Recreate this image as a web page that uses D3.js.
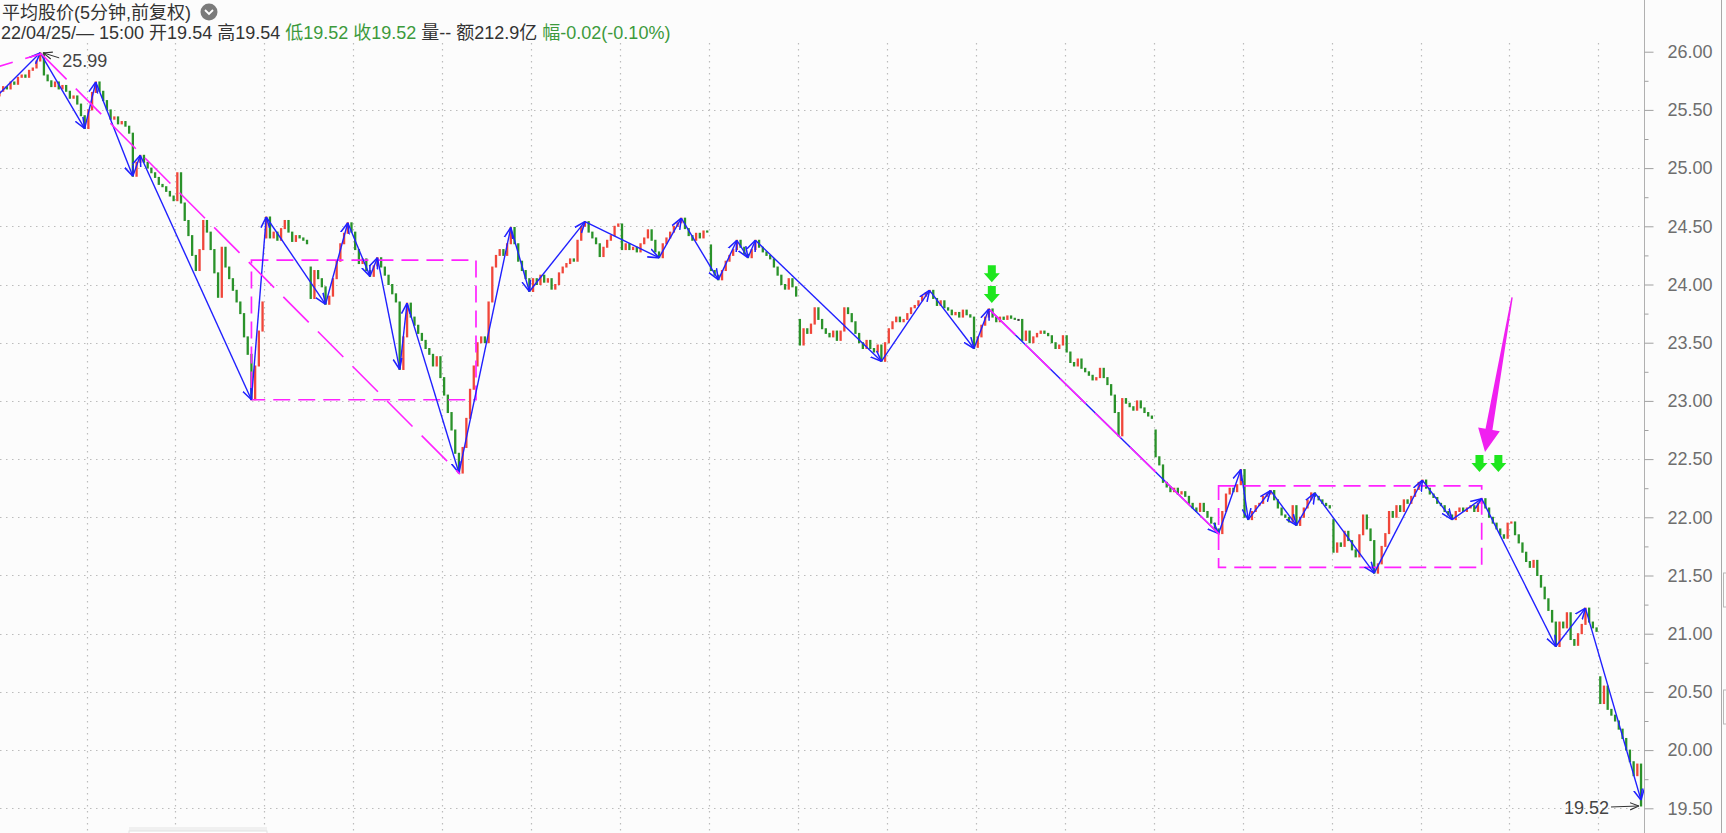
<!DOCTYPE html>
<html><head><meta charset="utf-8">
<script src="https://cdn.jsdelivr.net/npm/d3@7"></script>
<style>
html,body{margin:0;padding:0;background:#fcfcfc;overflow:hidden}
svg{display:block}
text{font-family:"Liberation Sans",Arial,"Noto Sans CJK SC",sans-serif;white-space:pre}
</style></head><body>
<svg id="c" width="1726" height="833"></svg>
<script>
// ---- price data: one array per half-day session: [open, close1 ... close12] ----
const seg00 = [25.62, 25.66, 25.70, 25.68, 25.74, 25.72, 25.78, 25.80, 25.78, 25.84, 25.86, 25.92, 25.99];
const seg01 = [25.99, 25.80, 25.75, 25.70, 25.74, 25.68, 25.71, 25.66, 25.60, 25.62, 25.55, 25.45, 25.34];
const seg02 = [25.34, 25.50, 25.65, 25.74, 25.66, 25.58, 25.50, 25.42, 25.44, 25.38, 25.40, 25.36, 25.30];
const seg03 = [25.30, 24.93, 25.05, 25.11, 25.05, 25.00, 24.96, 24.92, 24.86, 24.84, 24.80, 24.76, 24.72];
const seg04 = [24.72, 24.96, 24.70, 24.55, 24.42, 24.25, 24.12, 24.30, 24.55, 24.45, 24.30, 24.10, 23.89];
const seg05 = [23.89, 24.32, 24.15, 24.05, 23.95, 23.85, 23.75, 23.55, 23.40, 23.01, 23.30, 23.60, 23.85];
const seg06 = [24.40, 24.58, 24.40, 24.45, 24.38, 24.48, 24.55, 24.45, 24.37, 24.42, 24.40, 24.38, 24.35];
const seg07 = [24.15, 23.88, 24.12, 24.05, 23.98, 23.83, 23.90, 24.05, 24.20, 24.35, 24.44, 24.53, 24.45];
const seg08 = [24.45, 24.30, 24.18, 24.22, 24.12, 24.07, 24.16, 24.23, 24.15, 24.08, 24.00, 23.92, 23.85];
const seg09 = [23.85, 23.27, 23.55, 23.84, 23.72, 23.65, 23.58, 23.52, 23.45, 23.40, 23.30, 23.38, 23.20];
const seg10 = [23.20, 23.05, 22.90, 22.75, 22.55, 22.38, 22.60, 22.85, 23.10, 23.30, 23.50, 23.55, 23.50];
const seg11 = [23.50, 23.85, 24.15, 24.25, 24.30, 24.25, 24.35, 24.49, 24.35, 24.20, 24.12, 24.05, 23.94];
const seg12 = [23.94, 24.05, 24.00, 24.08, 24.02, 24.05, 23.96, 24.00, 24.10, 24.15, 24.18, 24.22, 24.20];
const seg13 = [24.20, 24.38, 24.50, 24.54, 24.45, 24.40, 24.35, 24.24, 24.32, 24.38, 24.42, 24.50, 24.52];
const seg14 = [24.52, 24.30, 24.35, 24.30, 24.32, 24.28, 24.35, 24.40, 24.47, 24.38, 24.28, 24.23, 24.35];
const seg15 = [24.35, 24.40, 24.45, 24.50, 24.53, 24.57, 24.48, 24.42, 24.38, 24.44, 24.40, 24.46, 24.45];
const seg16 = [24.34, 24.12, 24.08, 24.04, 24.12, 24.20, 24.25, 24.30, 24.38, 24.32, 24.26, 24.23, 24.30];
const seg17 = [24.30, 24.38, 24.32, 24.28, 24.25, 24.22, 24.15, 24.08, 24.00, 23.96, 24.05, 23.98, 23.90];
const seg18 = [23.70, 23.48, 23.62, 23.58, 23.66, 23.80, 23.70, 23.62, 23.58, 23.55, 23.60, 23.52, 23.60];
const seg19 = [23.60, 23.80, 23.75, 23.68, 23.58, 23.50, 23.45, 23.52, 23.45, 23.42, 23.48, 23.34, 23.50];
const seg20 = [23.50, 23.62, 23.68, 23.72, 23.68, 23.70, 23.75, 23.80, 23.82, 23.86, 23.90, 23.93, 23.95];
const seg21 = [23.95, 23.88, 23.82, 23.86, 23.80, 23.78, 23.74, 23.76, 23.72, 23.78, 23.74, 23.72, 23.45];
const seg22 = [23.46, 23.55, 23.65, 23.72, 23.79, 23.72, 23.68, 23.72, 23.70, 23.73, 23.71, 23.70, 23.70];
const seg23 = [23.70, 23.52, 23.60, 23.50, 23.55, 23.58, 23.60, 23.58, 23.56, 23.50, 23.45, 23.48, 23.56];
const seg24 = [23.56, 23.42, 23.33, 23.30, 23.36, 23.28, 23.25, 23.22, 23.18, 23.20, 23.28, 23.20, 23.14];
const seg25 = [23.14, 23.05, 22.90, 22.70, 23.02, 22.98, 22.95, 22.92, 23.00, 22.94, 22.90, 22.87, 22.85];
const seg26 = [22.75, 22.52, 22.45, 22.30, 22.26, 22.22, 22.25, 22.20, 22.22, 22.18, 22.12, 22.08, 22.05];
const seg27 = [22.05, 22.12, 22.05, 22.00, 21.95, 21.90, 21.86, 22.05, 22.20, 22.25, 22.22, 22.28, 22.41];
const seg28 = [22.41, 22.00, 21.98, 22.05, 22.10, 22.12, 22.18, 22.20, 22.23, 22.15, 22.08, 22.02, 22.00];
const seg29 = [22.00, 21.96, 22.10, 21.93, 22.00, 22.08, 22.15, 22.21, 22.18, 22.15, 22.12, 22.10, 22.08];
const seg30 = [21.98, 21.70, 21.78, 21.75, 21.88, 21.80, 21.72, 21.66, 21.85, 22.02, 21.90, 21.80, 21.52];
const seg31 = [21.52, 21.60, 21.75, 21.86, 22.05, 22.00, 22.10, 22.05, 22.15, 22.12, 22.18, 22.24, 22.30];
const seg32 = [22.30, 22.32, 22.25, 22.20, 22.17, 22.12, 22.10, 22.05, 22.02, 21.98, 22.05, 22.08, 22.05];
const seg33 = [22.05, 22.08, 22.10, 22.05, 22.12, 22.16, 22.08, 22.00, 21.95, 21.90, 21.85, 21.82, 21.95];
const seg34 = [21.95, 21.96, 21.85, 21.78, 21.70, 21.62, 21.57, 21.63, 21.50, 21.40, 21.30, 21.20, 21.10];
const seg35 = [21.10, 20.89, 21.10, 21.05, 21.18, 20.95, 20.90, 21.00, 21.08, 21.22, 21.10, 21.05, 21.02];
const seg36 = [20.63, 20.40, 20.55, 20.35, 20.30, 20.25, 20.18, 20.10, 20.00, 19.90, 19.78, 19.88, 19.52];

// ---- strokes (bi) : bar index and price of each turning point ----
const biIndex = [-6, 11, 23, 26, 36, 38, 68, 72, 88, 94, 100, 102, 108, 110, 124, 138, 143, 158, 178, 184, 194, 199, 202, 204, 238, 251, 263, 267, 329, 335, 337, 343, 350, 355, 371, 384, 392, 400, 420, 428, 443];
const biPrice = [25.45, 25.99, 25.34, 25.74, 24.93, 25.11, 23.01, 24.58, 23.83, 24.53, 24.07, 24.23, 23.27, 23.84, 22.38, 24.49, 23.94, 24.54, 24.23, 24.57, 24.04, 24.38, 24.23, 24.38, 23.34, 23.95, 23.45, 23.79, 21.86, 22.41, 21.98, 22.23, 21.93, 22.21, 21.52, 22.32, 21.98, 22.16, 20.89, 21.22, 19.57];
const biTailIndex = [443, 443.9];
const biTailPrice = [19.57, 19.67];

// ---- segments (magenta dashed) ----
const segFromIndex = [-6, 11, 267];
const segFromPrice = [25.83, 25.99, 23.79];
const segToIndex = [11, 124, 329];
const segToPrice = [25.99, 22.38, 21.86];

// ---- pivot boxes ----
const boxLeft = [68, 329];
const boxRight = [128.6, 400];
const boxTop = [24.21, 22.27];
const boxBottom = [23.01, 21.57];

// ---- signals ----
const sigIndex = [267.8, 267.8, 399.4, 404.5];
const sigPrice = [24.02, 23.84, 22.39, 22.39];
const bigArrowIndex = [408.2, 400.9];
const bigArrowPrice = [23.89, 22.56];

// ---- axis ticks ----
const majorTicks = [19.5, 20, 20.5, 21, 21.5, 22, 22.5, 23, 23.5, 24, 24.5, 25, 25.5, 26];
const minorTicks = [19.75, 20.25, 20.75, 21.25, 21.75, 22.25, 22.75, 23.25, 23.75, 24.25, 24.75, 25.25, 25.75];
const gridPrices = [19.5, 20, 20.5, 21, 21.5, 22, 22.5, 23, 23.5, 24, 24.5, 25, 25.5];

// ---- labels ----
const highLabel = {index: 11, price: 25.99, text: "25.99"};
const lowLabel = {index: 443, price: 19.52, text: "19.52"};
const titleText = "平均股价(5分钟,前复权)";
const infoParts = [["22/04/25/— 15:00 开19.54 高19.54 ", "#333"], ["低19.52 收19.52 ", "#3c9a3c"], ["量-- 额212.9亿 ", "#333"], ["幅-0.02(-0.10%)", "#3c9a3c"]];

// ================= drawing =================
const sessions = [seg00, seg01, seg02, seg03, seg04, seg05, seg06, seg07, seg08, seg09, seg10, seg11, seg12, seg13, seg14, seg15, seg16, seg17, seg18, seg19, seg20, seg21, seg22, seg23, seg24, seg25, seg26, seg27, seg28, seg29, seg30, seg31, seg32, seg33, seg34, seg35, seg36];
const PER = 12;
const nBars = sessions.length * PER;
const svg = d3.select("#c");
const x = d3.scaleLinear().domain([0, nBars]).range([-2.4, -2.4 + nBars * 3.7056]);
const xc = i => x(i + 0.5);
const y = d3.scaleLinear().domain([19.5, 26]).range([808.3, 51.7]);

svg.append("rect").attr("width", 1726).attr("height", 833).attr("fill", "#fcfcfc");

const defs = svg.append("defs");
defs.append("marker").attr("id", "ab").attr("viewBox", "0 0 10 10").attr("refX", 10).attr("refY", 5)
  .attr("markerWidth", 11).attr("markerHeight", 11).attr("markerUnits", "userSpaceOnUse").attr("orient", "auto")
  .append("path").attr("d", "M0,1 L10,5 L0,9").attr("fill", "none").attr("stroke", "#2020ff").attr("stroke-width", 1.4);
defs.append("marker").attr("id", "ak").attr("viewBox", "0 0 10 10").attr("refX", 10).attr("refY", 5)
  .attr("markerWidth", 9).attr("markerHeight", 9).attr("markerUnits", "userSpaceOnUse").attr("orient", "auto")
  .append("path").attr("d", "M0,1 L10,5 L0,9").attr("fill", "none").attr("stroke", "#333").attr("stroke-width", 1.2);

// grid
const grid = svg.append("g").attr("stroke", "#bcbcbc").attr("stroke-width", 1.2).attr("stroke-dasharray", "1.5,4.5");
const dayLines = d3.range(1, Math.ceil(sessions.length / 2)).map(d => d * 2 * PER);
grid.selectAll("line.v").data(dayLines).join("line").attr("class", "v")
  .attr("x1", d => Math.round(x(d)) + 0.5).attr("x2", d => Math.round(x(d)) + 0.5).attr("y1", 43).attr("y2", 833);
grid.selectAll("line.h").data(gridPrices).join("line").attr("class", "h")
  .attr("x1", 0).attr("x2", 1640).attr("y1", d => Math.round(y(d)) + 0.5).attr("y2", d => Math.round(y(d)) + 0.5);

// candles
const candles = [];
sessions.forEach((s, si) => { for (let j = 0; j < PER; j++) candles.push({i: si * PER + j, o: s[j], c: s[j + 1]}); });
svg.append("g").selectAll("rect").data(candles).join("rect")
  .attr("x", d => xc(d.i) - 1.15).attr("width", 2.3)
  .attr("y", d => y(Math.max(d.o, d.c)) - 0.5)
  .attr("height", d => Math.max(2, Math.abs(y(d.o) - y(d.c)) + 1))
  .attr("fill", d => d.c > d.o ? "#f0463a" : d.c < d.o ? "#2a922a" : "#3a3a3a");

// pivot boxes
const boxes = boxLeft.map((l, k) => ({l, r: boxRight[k], t: boxTop[k], b: boxBottom[k]}));
svg.append("g").selectAll("rect").data(boxes).join("rect")
  .attr("x", d => xc(d.l)).attr("y", d => y(d.t)).attr("width", d => xc(d.r) - xc(d.l)).attr("height", d => y(d.b) - y(d.t))
  .attr("fill", "none").attr("stroke", "#ff22ff").attr("stroke-width", 1.7).attr("stroke-dasharray", "17,8");

// bi strokes
const bis = [];
for (let k = 1; k < biIndex.length; k++) bis.push({x1: xc(biIndex[k - 1]), y1: y(biPrice[k - 1]), x2: xc(biIndex[k]), y2: y(biPrice[k])});
svg.append("g").selectAll("line").data(bis).join("line")
  .attr("x1", d => d.x1).attr("y1", d => d.y1).attr("x2", d => d.x2).attr("y2", d => d.y2)
  .attr("stroke", "#2020ff").attr("stroke-width", 1.4).attr("marker-end", "url(#ab)");
svg.append("line").attr("x1", xc(biTailIndex[0])).attr("y1", y(biTailPrice[0])).attr("x2", xc(biTailIndex[1])).attr("y2", y(biTailPrice[1]))
  .attr("stroke", "#2020ff").attr("stroke-width", 1.4);

// segments (drawn over the strokes, slightly offset like the original)
const segs = segFromIndex.map((f, k) => ({x1: xc(f), y1: y(segFromPrice[k]), x2: xc(segToIndex[k]), y2: y(segToPrice[k])}));
svg.append("g").selectAll("line").data(segs).join("line")
  .attr("x1", d => d.x1 + 1).attr("y1", d => d.y1 + 1).attr("x2", d => d.x2 + 1).attr("y2", d => d.y2 + 1)
  .attr("stroke", "#ff22ff").attr("stroke-width", 1.6).attr("stroke-dasharray", "36,13");

// green signal arrows
const sigs = sigIndex.map((s, k) => ({tx: xc(s), ty: y(sigPrice[k])}));
svg.append("g").selectAll("path").data(sigs).join("path")
  .attr("d", d => {
    const {tx, ty} = d;
    return `M${tx - 4},${ty - 17} L${tx + 4},${ty - 17} L${tx + 4},${ty - 9} L${tx + 8},${ty - 9} L${tx},${ty} L${tx - 8},${ty - 9} L${tx - 4},${ty - 9} Z`;
  }).attr("fill", "#1ee61e");

// big magenta arrow
{
  const T = [xc(bigArrowIndex[0]), y(bigArrowPrice[0])];
  const P = [xc(bigArrowIndex[1]), y(bigArrowPrice[1])];
  const L = Math.hypot(P[0] - T[0], P[1] - T[1]);
  const u = [(P[0] - T[0]) / L, (P[1] - T[1]) / L];
  const n = [-u[1], u[0]];
  const B = [P[0] - u[0] * 23, P[1] - u[1] * 23];
  const pt = (p, s) => [p[0] + n[0] * s, p[1] + n[1] * s];
  const pts = [pt(T, -0.7), pt(T, 0.7), pt(B, 3.5), pt(B, 11), P, pt(B, -11), pt(B, -3.5)];
  svg.append("path").attr("d", "M" + pts.map(p => p.join(",")).join("L") + "Z").attr("fill", "#f020f0");
}

// extreme labels
{
  const hx = xc(highLabel.index), hy = y(highLabel.price);
  svg.append("line").attr("x1", hx + 19).attr("y1", hy + 5).attr("x2", hx + 3).attr("y2", hy)
    .attr("stroke", "#333").attr("stroke-width", 1).attr("marker-end", "url(#ak)");
  svg.append("text").attr("x", hx + 22).attr("y", hy + 14).attr("font-size", 18).attr("fill", "#444").text(highLabel.text);
  const lx = xc(lowLabel.index), ly = y(lowLabel.price);
  svg.append("line").attr("x1", lx - 30).attr("y1", ly + 1).attr("x2", lx - 2).attr("y2", ly)
    .attr("stroke", "#333").attr("stroke-width", 1).attr("marker-end", "url(#ak)");
  svg.append("text").attr("x", lx - 32).attr("y", ly + 8).attr("font-size", 18).attr("fill", "#444").attr("text-anchor", "end").text(lowLabel.text);
}

// right axis
svg.append("line").attr("x1", 1644.5).attr("x2", 1644.5).attr("y1", 0).attr("y2", 833).attr("stroke", "#b0b0b0");
svg.append("line").attr("x1", 1721.5).attr("x2", 1721.5).attr("y1", 0).attr("y2", 833).attr("stroke", "#a8a8a8");
const ax = svg.append("g").attr("transform", "translate(1644.5,0)")
  .call(d3.axisRight(y).tickValues(majorTicks).tickSize(9).tickPadding(14).tickFormat(d3.format(".2f")));
ax.select(".domain").remove();
ax.selectAll("line").attr("stroke", "#a0a0a0");
ax.selectAll("text").attr("font-size", 18).attr("fill", "#6e6e6e").attr("font-family", "Liberation Sans, Arial, sans-serif");
const axm = svg.append("g").attr("transform", "translate(1644.5,0)")
  .call(d3.axisRight(y).tickValues(minorTicks).tickSize(4).tickFormat(""));
axm.select(".domain").remove();
axm.selectAll("line").attr("stroke", "#a0a0a0");
svg.append("rect").attr("x", 1723.5).attr("y", 573).attr("width", 6).attr("height", 34).attr("fill", "none").attr("stroke", "#b8b8b8");
svg.append("rect").attr("x", 1723.5).attr("y", 690).attr("width", 6).attr("height", 34).attr("fill", "none").attr("stroke", "#b8b8b8");

// bottom tooltip box edge
svg.append("rect").attr("x", 129).attr("y", 827).attr("width", 138).attr("height", 4).attr("fill", "#f0f0f0");
svg.append("rect").attr("x", 129).attr("y", 831).attr("width", 138).attr("height", 5).attr("fill", "#ffffff").attr("stroke", "#e2e2e2");

// header
svg.append("text").attr("x", 2).attr("y", 19).attr("font-size", 18).attr("fill", "#333").text(titleText);
svg.append("circle").attr("cx", 209).attr("cy", 12).attr("r", 8.5).attr("fill", "#7b7b7b");
svg.append("path").attr("d", "M205,10 L209,14 L213,10").attr("fill", "none").attr("stroke", "#fff").attr("stroke-width", 1.8);
const info = svg.append("text").attr("x", 1).attr("y", 39).attr("font-size", 18);
info.selectAll("tspan").data(infoParts).join("tspan").attr("fill", d => d[1]).text(d => d[0]);
</script>
</body></html>
